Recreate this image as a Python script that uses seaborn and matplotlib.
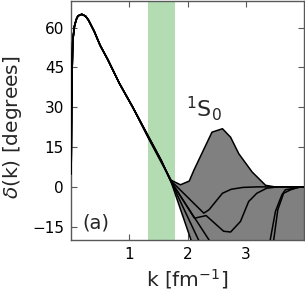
import numpy as np
import matplotlib
matplotlib.use("Agg")
import matplotlib.pyplot as plt
import seaborn as sns

# shared low-momentum part of all phase-shift curves
k_base = [0.003, 0.01, 0.02, 0.03, 0.06, 0.09, 0.12, 0.185, 0.25, 0.3, 0.4, 0.5, 0.63, 0.83, 1.06]
d_base = [5.0, 30.0, 44.0, 55.0, 60.6, 63.0, 64.4, 65.0, 64.3, 62.8, 58.5, 53.3, 48.0, 39.0, 30.0]

# individual tails (k, delta)
tails = {
    "A": ([1.33, 1.55, 1.72, 1.88, 2.03, 2.11, 2.42, 2.6, 2.74, 2.88, 3.11, 3.34, 3.5, 4.0],
          [18.3, 9.2, 2.5, 0.8, 2.2, 6.3, 20.6, 21.9, 18.7, 12.5, 5.6, 0.6, 0.0, 0.0]),
    "B": ([1.33, 1.55, 1.72, 2.28, 2.37, 2.6, 2.75, 2.95, 3.2, 4.0],
          [18.6, 9.6, 2.2, -9.9, -8.6, -2.4, -0.9, -0.2, 0.0, 0.0]),
    "C": ([1.33, 1.55, 1.72, 2.12, 2.32, 2.62, 2.74, 2.91, 3.05, 3.19, 3.36, 3.55, 4.0],
          [18.8, 9.8, 2.0, -11.8, -10.8, -16.7, -17.0, -13.0, -5.5, -2.4, -0.5, 0.0, 0.0]),
    "D": ([1.33, 1.55, 1.72, 2.06, 2.3, 3.0, 4.0],
          [19.0, 10.0, 1.8, -20.0, -45.0, -80.0, -90.0]),
    "E": ([1.33, 1.55, 1.72, 2.19, 2.5, 3.0, 3.42, 3.51, 3.62, 3.68, 3.95, 4.0],
          [18.9, 9.9, 1.8, -20.0, -40.0, -50.0, -20.0, -9.2, -3.0, -1.1, 0.0, 0.0]),
    "F": ([1.33, 1.55, 1.72, 2.37, 2.7, 3.2, 3.48, 3.55, 3.65, 3.77, 3.9, 4.0],
          [18.7, 9.7, 1.9, -20.0, -40.0, -45.0, -20.0, -8.6, -2.4, -1.1, -0.2, 0.0]),
}

band = (1.33, 1.78)
xticks = [1, 2, 3]
yticks = [-15, 0, 15, 30, 45, 60]

sns.set_style("ticks")
plt.rcParams.update({
    "xtick.direction": "in", "ytick.direction": "in",
    "xtick.top": True, "ytick.right": True,
    "xtick.major.size": 4, "ytick.major.size": 4,
    "axes.edgecolor": "0.35", "axes.linewidth": 1.0,
    "xtick.color": "0.35", "ytick.color": "0.35",
    "xtick.labelcolor": "black", "ytick.labelcolor": "black",
})
plt.rcParams["font.family"] = ["DejaVu Sans"]

fig = plt.figure(figsize=(3.05, 2.96), dpi=100)
ax = fig.add_axes([71 / 305, 56 / 296, 233 / 305, 239 / 296])

ax.axvspan(band[0], band[1], color="#b3dcb3", lw=0, zorder=1)

curves = {}
for name, (kt, dt) in tails.items():
    curves[name] = (np.array(k_base + kt), np.array(d_base + dt))

kA, dA = curves["A"]
kD, dD = curves["D"]
ax.fill(np.concatenate([kA, kD[::-1]]), np.concatenate([dA, dD[::-1]]),
        color="#808080", lw=0, zorder=2)

for name, (kk, dd) in curves.items():
    sns.lineplot(x=kk, y=dd, sort=False, estimator=None, color="black",
                 lw=1.1, ax=ax, zorder=3)

ax.set_xlim(0, 4)
ax.set_ylim(-20, 70)
ax.set_xticks(xticks)
ax.set_yticks(yticks)
ax.set_xticklabels([str(t) for t in xticks])
ax.set_yticklabels([f"{t}".replace("-", "\u2212") for t in yticks])
ax.tick_params(labelsize=11, pad=5)

ax.set_xlabel(r"k [fm$^{-1}$]", fontsize=14.5)
ax.xaxis.set_label_coords(0.5, -0.115, transform=ax.transAxes)
ax.xaxis.label.set_verticalalignment("top")
ax.set_ylabel(r"$\delta$(k) [degrees]", fontsize=14.5)
ax.yaxis.set_label_coords(-0.2, 0.47)

ax.text(0.2, -13.5, "(a)", fontsize=14, va="center", ha="left")
ax.text(1.98, 29.5, r"$^1$S$_0$", fontsize=16, va="center", ha="left")

fig.savefig("out.png", dpi=100)
